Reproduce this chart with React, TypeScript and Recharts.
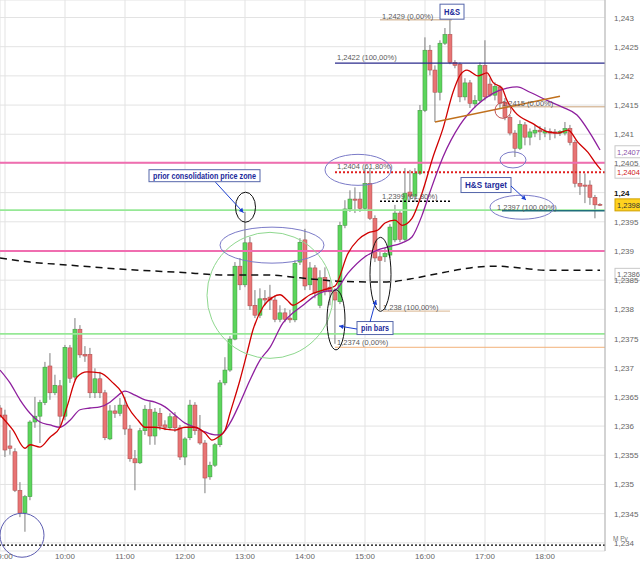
import React from 'react';
import {
  ComposedChart,
  Bar,
  Line,
  XAxis,
  YAxis,
  CartesianGrid,
  ReferenceLine,
  ReferenceDot
} from 'recharts';

// 5-minute EUR/USD bars, slot 0 = 9:00, first bar is 8:55
const firstSlot = -1;

const opens = [
  1.23631, 1.23619, 1.23566, 1.23556, 1.2349, 1.23451, 1.23479, 1.23607, 1.23617, 1.2364,
  1.23703, 1.23657, 1.23669, 1.23617, 1.23734, 1.23684, 1.23766, 1.23723, 1.23723, 1.23657,
  1.23681, 1.23657, 1.23578, 1.23626, 1.23622, 1.23636, 1.23595, 1.23544, 1.23537, 1.23592,
  1.23628, 1.23583, 1.23622, 1.23602, 1.23597, 1.23616, 1.23597, 1.23547, 1.2358, 1.23636,
  1.23593, 1.23571, 1.23513, 1.23533, 1.23568, 1.23674, 1.23696, 1.23749, 1.23874, 1.23842,
  1.23914, 1.23807, 1.2379, 1.23819, 1.23821, 1.23816, 1.23783, 1.23794, 1.23785, 1.23782,
  1.23881, 1.23919, 1.23842, 1.23871, 1.23807, 1.23855, 1.23838, 1.2383, 1.23813, 1.23944,
  1.23972, 1.23989, 1.23989, 1.23973, 1.24016, 1.23956, 1.2389, 1.2389, 1.23893, 1.23919,
  1.23965, 1.2392, 1.24001, 1.23994, 1.24033, 1.24141, 1.24244, 1.2421, 1.24172, 1.24256,
  1.24271, 1.24223, 1.2422, 1.24164, 1.24188, 1.24152, 1.24158, 1.24218, 1.24186, 1.24167,
  1.24181, 1.24155, 1.24129, 1.24102, 1.24076, 1.24116, 1.24095, 1.24102, 1.24107, 1.24102,
  1.24105, 1.24104, 1.24102, 1.24102, 1.2411, 1.24086, 1.24016, 1.24013, 1.24013, 1.23992,
  1.2398
];

const highs = [
  1.23636, 1.23628, 1.23593, 1.23562, 1.23504, 1.23482, 1.2361, 1.2365, 1.23645, 1.2371,
  1.23725, 1.23688, 1.23679, 1.23739, 1.23739, 1.23785, 1.23773, 1.23737, 1.23734, 1.23699,
  1.23693, 1.23662, 1.23636, 1.23636, 1.23648, 1.2365, 1.23602, 1.23559, 1.23597, 1.23636,
  1.23641, 1.23631, 1.23631, 1.2361, 1.23622, 1.23624, 1.23602, 1.23581, 1.23645, 1.23641,
  1.23619, 1.23576, 1.23539, 1.23571, 1.23679, 1.23718, 1.23754, 1.23881, 1.23888, 1.23967,
  1.23924, 1.23833, 1.23836, 1.23833, 1.23842, 1.23824, 1.23807, 1.23802, 1.23799, 1.23884,
  1.23922, 1.23938, 1.23881, 1.23876, 1.23867, 1.23872, 1.2385, 1.23836, 1.2395, 1.23987,
  1.24004, 1.24009, 1.24001, 1.24042, 1.24042, 1.23961, 1.23902, 1.23905, 1.23946, 1.23979,
  1.2397, 1.24042, 1.24039, 1.24042, 1.2415, 1.24266, 1.24253, 1.24218, 1.24261, 1.24282,
  1.24299, 1.24227, 1.24223, 1.24196, 1.24193, 1.24167, 1.24223, 1.24261, 1.24196, 1.24189,
  1.24184, 1.24162, 1.24133, 1.24107, 1.24124, 1.24121, 1.2411, 1.24116, 1.24114, 1.24112,
  1.2411, 1.24109, 1.24107, 1.24121, 1.24116, 1.2409, 1.24033, 1.24033, 1.24021, 1.23996,
  1.23982
];

const lows = [
  1.23614, 1.23547, 1.23551, 1.23487, 1.23444, 1.23419, 1.23473, 1.23597, 1.23571, 1.23636,
  1.23645, 1.23653, 1.23598, 1.2361, 1.23674, 1.23679, 1.23717, 1.2371, 1.23648, 1.23648,
  1.23648, 1.23576, 1.23576, 1.23614, 1.23617, 1.23585, 1.23539, 1.2349, 1.23535, 1.23585,
  1.23568, 1.23568, 1.23593, 1.23593, 1.23593, 1.2359, 1.23542, 1.23533, 1.23576, 1.23585,
  1.23568, 1.23485, 1.23508, 1.2353, 1.23564, 1.2367, 1.23693, 1.23747, 1.23833, 1.23838,
  1.23799, 1.23785, 1.23785, 1.23807, 1.23799, 1.23778, 1.23778, 1.23778, 1.23777, 1.23778,
  1.23876, 1.23833, 1.23833, 1.23819, 1.23802, 1.23824, 1.23807, 1.23741, 1.23809, 1.23939,
  1.23967, 1.23965, 1.23967, 1.2397, 1.23953, 1.23881, 1.23799, 1.23881, 1.23888, 1.23915,
  1.23915, 1.23917, 1.23987, 1.23984, 1.2403, 1.24138, 1.24201, 1.24121, 1.24158, 1.24253,
  1.2422, 1.24213, 1.24155, 1.24158, 1.24145, 1.24146, 1.24155, 1.24158, 1.24164, 1.24158,
  1.24145, 1.24124, 1.24098, 1.24061, 1.24073, 1.24081, 1.24081, 1.24095, 1.2409, 1.24095,
  1.2409, 1.24093, 1.24097, 1.24098, 1.24081, 1.24009, 1.23996, 1.23982, 1.23979, 1.23956,
  1.23977
];

const closes = [
  1.23617, 1.23559, 1.23562, 1.2349, 1.23451, 1.23479, 1.23607, 1.23617, 1.2364, 1.23701,
  1.23657, 1.2367, 1.23617, 1.23735, 1.23682, 1.23766, 1.23722, 1.2372, 1.23657, 1.23681,
  1.23657, 1.2358, 1.23626, 1.23622, 1.23636, 1.23595, 1.23544, 1.23537, 1.23592, 1.23629,
  1.23583, 1.23624, 1.236, 1.23598, 1.23616, 1.23597, 1.23547, 1.23578, 1.23636, 1.23592,
  1.23571, 1.23511, 1.23533, 1.23568, 1.23674, 1.23696, 1.23749, 1.23874, 1.23842, 1.23914,
  1.23806, 1.2379, 1.23818, 1.23816, 1.23816, 1.23783, 1.23794, 1.23783, 1.23782, 1.23879,
  1.23915, 1.2384, 1.23871, 1.23828, 1.23854, 1.2383, 1.2383, 1.23816, 1.23944, 1.23972,
  1.23989, 1.23987, 1.23973, 1.24016, 1.23956, 1.23888, 1.23884, 1.23896, 1.23941, 1.23965,
  1.2392, 1.23999, 1.23994, 1.24033, 1.24141, 1.24244, 1.2421, 1.24172, 1.24256, 1.24271,
  1.24223, 1.24218, 1.24164, 1.24188, 1.24153, 1.24158, 1.24218, 1.24164, 1.24167, 1.24182,
  1.24153, 1.24129, 1.24102, 1.24076, 1.24117, 1.24095, 1.24104, 1.24107, 1.24104, 1.24105,
  1.24102, 1.24102, 1.24105, 1.2411, 1.24086, 1.24016, 1.24011, 1.24011, 1.23992, 1.23979,
  1.23979
];

// moving averages: [slot, price]
const fastMa = [
  [-1, 1.23619], [1.6, 1.23593], [4, 1.23562], [5, 1.23568], [7, 1.23564], [9, 1.23581],
  [11, 1.23598], [12.4, 1.23633], [14.4, 1.23684], [16.4, 1.23693], [19, 1.23691],
  [21.6, 1.23674], [23.4, 1.23657], [24.6, 1.23633], [26.6, 1.2361], [28, 1.23598],
  [30, 1.23598], [32, 1.23595], [34, 1.23593], [36, 1.23598], [38, 1.23598], [40, 1.23588],
  [41.4, 1.23576], [42.6, 1.23581], [44, 1.23593], [45, 1.23622], [47, 1.23679],
  [48.4, 1.23725], [49.6, 1.23765], [51.6, 1.23804], [53.6, 1.23821], [55, 1.23825],
  [56.4, 1.23816], [57.6, 1.23807], [59, 1.23813], [61, 1.23825], [63.6, 1.23833],
  [66, 1.2384], [68.6, 1.23896], [70.6, 1.23919], [72.6, 1.23931], [74.6, 1.23936],
  [76, 1.23948], [78, 1.23953], [79.4, 1.23944], [81.4, 1.23956], [83.4, 1.23999],
  [85.6, 1.24061], [87.6, 1.2411], [89.6, 1.24172], [91, 1.24201], [92.4, 1.2421],
  [94.6, 1.242], [96.4, 1.24205], [97.6, 1.24189], [99.4, 1.24179], [100.4, 1.24158],
  [102, 1.24138], [105.4, 1.24119], [108.6, 1.24104], [110.6, 1.24102], [112.6, 1.24107],
  [114.6, 1.24086], [116.6, 1.24069], [118, 1.24052], [119.2, 1.24039]
];

const slowMa = [
  [-1, 1.23696], [1, 1.23674], [3, 1.23645], [5, 1.23622], [7, 1.23607], [9, 1.23602],
  [11, 1.23598], [13, 1.2361], [15, 1.23628], [17, 1.23631], [19, 1.23633], [21, 1.23641],
  [22, 1.23648], [24, 1.2366], [26, 1.23653], [28, 1.23645], [30, 1.23641], [32, 1.23633],
  [34, 1.23619], [36, 1.23605], [38, 1.23598], [40, 1.2359], [42, 1.23585], [43, 1.23585],
  [45, 1.23605], [47, 1.2364], [49, 1.23679], [51, 1.23713], [53, 1.23735], [55.6, 1.23777],
  [57.6, 1.23794], [59.6, 1.23807], [61.6, 1.23821], [63.6, 1.2383], [66, 1.23833],
  [68.6, 1.23862], [72, 1.2389], [74.6, 1.23902], [76.6, 1.23907], [79.4, 1.23914],
  [81.4, 1.23924], [83.4, 1.23961], [85, 1.24001], [87.6, 1.24061], [91, 1.24116],
  [94.4, 1.2415], [97.6, 1.2417], [100.4, 1.24179], [102.4, 1.24181], [105, 1.24172],
  [108.4, 1.24158], [111.6, 1.24146], [114.4, 1.24133], [117, 1.24102], [119, 1.24073]
];

const longMa = [
  [-1, 1.23888], [5, 1.23881], [12.4, 1.23876], [23, 1.23869], [37.6, 1.23862],
  [43, 1.23859], [52.4, 1.23859], [59, 1.23854], [67, 1.23848], [72.4, 1.23847],
  [76.4, 1.23847], [81, 1.23852], [87, 1.23862], [93, 1.23871], [98, 1.23874],
  [103, 1.23871], [108, 1.23867], [119, 1.23867]
];

const hourTicks = [0, 12, 24, 36, 48, 60, 72, 84, 96, 108];
const hourLabels = ['9:00', '10:00', '11:00', '12:00', '13:00', '14:00', '15:00', '16:00', '17:00', '18:00'];

const priceTicks = [
  1.234, 1.2345, 1.235, 1.2355, 1.236, 1.2365, 1.237, 1.2375, 1.238, 1.2385,
  1.239, 1.2395, 1.24, 1.2405, 1.241, 1.2415, 1.242, 1.2425, 1.243
];

const chartData = opens.map((o, k) => ({
  slot: firstSlot + k,
  open: o,
  high: highs[k],
  low: lows[k],
  close: closes[k],
  range: [lows[k], highs[k]]
}));

const toPoints = (rows: number[][]) => rows.map(([slot, v]) => ({ slot, v }));

const FONT = '"Liberation Sans", Arial, sans-serif';
const fmt = (v: number) => String(Number(v.toFixed(4))).replace('.', ',');

const Candle = (props: any) => {
  const { x, width, payload } = props;
  let { y, height } = props;
  if (height < 0) {
    y += height;
    height = -height;
  }
  const { open, close, high, low } = payload;
  const span = high - low;
  const px = (v: number) => (span > 0 ? y + ((high - v) / span) * height : y);
  const up = close > open;
  const top = px(Math.max(open, close));
  const bot = px(Math.min(open, close));
  const cx = x + width / 2;
  return (
    <g>
      <line x1={cx} x2={cx} y1={y} y2={y + height} stroke="#7d7d7d" strokeWidth={1} />
      <rect
        x={cx - 2}
        y={top}
        width={4}
        height={Math.max(bot - top, 1)}
        fill={up ? '#5cd65c' : '#e87474'}
        stroke={up ? '#3f8f3f' : '#a84848'}
        strokeWidth={0.5}
      />
    </g>
  );
};

const Arrow = ({ x1, y1, x2, y2 }: { x1: number; y1: number; x2: number; y2: number }) => {
  const a = Math.atan2(y2 - y1, x2 - x1);
  const s = 5;
  const p1 = `${x2 - s * Math.cos(a - 0.5)},${y2 - s * Math.sin(a - 0.5)}`;
  const p2 = `${x2 - s * Math.cos(a + 0.5)},${y2 - s * Math.sin(a + 0.5)}`;
  return (
    <g>
      <line x1={x1} y1={y1} x2={x2} y2={y2} stroke="#1b3fd0" strokeWidth={1} />
      <polygon points={`${x2},${y2} ${p1} ${p2}`} fill="#1b3fd0" />
    </g>
  );
};

const ellipse = (rx: number, ry: number, color: string) => (p: any) => (
  <ellipse cx={p.cx} cy={p.cy} rx={rx} ry={ry} fill="none" stroke={color} strokeWidth={1} />
);

const noteBox = (text: string, w: number, h: number, children?: (cx: number, cy: number) => React.ReactNode) => (p: any) => (
  <g>
    <rect x={p.cx - w / 2} y={p.cy - h / 2} width={w} height={h} fill="#fff" stroke="#5566aa" strokeWidth={1} />
    <text
      x={p.cx}
      y={p.cy + 3}
      textAnchor="middle"
      fontFamily={FONT}
      fontSize={8.5}
      fontWeight="bold"
      fill="#1c2a9a"
      textLength={w - 8}
      lengthAdjust="spacingAndGlyphs"
    >
      {text}
    </text>
    {children ? children(p.cx, p.cy) : null}
  </g>
);

const fibText = (text: string) => (p: any) => (
  <text x={p.cx} y={p.cy} fontFamily={FONT} fontSize={7.5} fill="#5a5a5a">
    {text}
  </text>
);

const priceTag = (text: string, color: string, fill: string, border: string) => (p: any) => {
  const vb = p.viewBox || {};
  const x = (vb.x || 0) + (vb.width || 0) + 10;
  const y = vb.y || 0;
  return (
    <g>
      <rect x={x} y={y - 6} width={30} height={12} fill={fill} stroke={border} strokeWidth={1} />
      <text x={x + 2} y={y + 3} fontFamily={FONT} fontSize={7.5} fill={color}>
        {text}
      </text>
    </g>
  );
};

const YTick = (p: any) => {
  const v = p.payload.value;
  const main = Math.abs(v - 1.24) < 1e-9;
  return (
    <text
      x={p.x + 1}
      y={p.y + 3}
      fontFamily={FONT}
      fontSize={8}
      fontWeight={main ? 'bold' : 'normal'}
      fill={main ? '#111' : '#666'}
    >
      {fmt(v)}
    </text>
  );
};

const XTick = (p: any) => {
  const k = hourTicks.indexOf(p.payload.value);
  return (
    <text x={p.x} y={559} textAnchor="middle" fontFamily={FONT} fontSize={8} fill="#666">
      {hourLabels[k]}
    </text>
  );
};

const lineProps = { type: 'monotone' as const, dot: false, activeDot: false, isAnimationActive: false };

export default function App() {
  return (
    <div style={{ position: 'absolute', left: 0, top: 0, width: 640, height: 562, background: '#fff', overflow: 'hidden' }}>
      <ComposedChart width={640} height={562} data={chartData} margin={{ top: 0, right: 0, bottom: 0, left: 0 }}>
        <CartesianGrid stroke="#e3e3e3" strokeWidth={1} />
        <XAxis
          dataKey="slot"
          type="number"
          domain={[-1, 120]}
          ticks={hourTicks}
          allowDataOverflow
          height={11}
          axisLine={false}
          tickLine={false}
          tick={XTick}
          interval={0}
        />
        <YAxis
          orientation="right"
          type="number"
          domain={[1.23386, 1.2433]}
          ticks={priceTicks}
          allowDataOverflow
          width={35}
          axisLine={{ stroke: '#b5b5b5' }}
          tickLine={false}
          tick={YTick}
          interval={0}
        />

        {/* support / resistance levels */}
        <ReferenceLine y={1.24051} stroke="#f06eb0" strokeWidth={2} />
        <ReferenceLine y={1.239} stroke="#f06eb0" strokeWidth={2} />
        <ReferenceLine y={1.2397} stroke="#96e896" strokeWidth={1.6} />
        <ReferenceLine y={1.23758} stroke="#96e896" strokeWidth={1.6} />
        <ReferenceLine
          y={1.23396}
          stroke="#000"
          strokeWidth={1.3}
          strokeDasharray="2 2"
          label={(p: any) => (
            <text x={p.viewBox.x + p.viewBox.width + 8} y={p.viewBox.y - 4} fontFamily={FONT} fontSize={6.5} fill="#777">
              M Pv
            </text>
          )}
        />

        {/* fibonacci levels */}
        <ReferenceLine segment={[{ x: 75, y: 1.24296 }, { x: 89.4, y: 1.24296 }]} stroke="#c9a27a" />
        <ReferenceLine segment={[{ x: 66, y: 1.24222 }, { x: 120, y: 1.24222 }]} stroke="#2b2b8c" strokeWidth={1.2} />
        <ReferenceLine segment={[{ x: 99.4, y: 1.24147 }, { x: 120, y: 1.24147 }]} stroke="#c9a27a" />
        <ReferenceLine segment={[{ x: 66, y: 1.24035 }, { x: 120, y: 1.24035 }]} stroke="#e02020" strokeWidth={2} strokeDasharray="2 2" />
        <ReferenceLine segment={[{ x: 75, y: 1.23985 }, { x: 89, y: 1.23985 }]} stroke="#000" strokeWidth={1.5} strokeDasharray="2 2" />
        <ReferenceLine segment={[{ x: 99.4, y: 1.23969 }, { x: 120, y: 1.23969 }]} stroke="#1f6f7a" strokeWidth={1.5} />
        <ReferenceLine segment={[{ x: 75.6, y: 1.23797 }, { x: 89, y: 1.23797 }]} stroke="#d9b48e" />
        <ReferenceLine segment={[{ x: 66, y: 1.23735 }, { x: 120, y: 1.23735 }]} stroke="#f2b27a" />

        <Bar dataKey="range" barSize={4} shape={Candle} activeBar={false} isAnimationActive={false} />

        <Line data={toPoints(longMa)} dataKey="v" stroke="#111" strokeWidth={1.5} strokeDasharray="7 5" {...lineProps} />
        <Line data={toPoints(slowMa)} dataKey="v" stroke="#8e1f9e" strokeWidth={1.3} {...lineProps} />
        <Line data={toPoints(fastMa)} dataKey="v" stroke="#d00000" strokeWidth={1.3} {...lineProps} />

        {/* head & shoulders neckline */}
        <ReferenceLine segment={[{ x: 86, y: 1.24121 }, { x: 111, y: 1.24165 }]} stroke="#c0701c" strokeWidth={1.5} />

        {/* fib labels */}
        <ReferenceDot x={75.4} y={1.24298} r={0} shape={fibText('1,2429 (0,00%)')} />
        <ReferenceDot x={66.4} y={1.24227} r={0} shape={fibText('1,2422 (100,00%)')} />
        <ReferenceDot x={99.4} y={1.24149} r={0} shape={fibText('1,2415 (0,00%)')} />
        <ReferenceDot x={66.4} y={1.2404} r={0} shape={fibText('1,2404 (61,80%)')} />
        <ReferenceDot x={75.4} y={1.23989} r={0} shape={fibText('1,2399 (61,80%)')} />
        <ReferenceDot x={98.4} y={1.23971} r={0} shape={fibText('1,2397 (100,00%)')} />
        <ReferenceDot x={75.6} y={1.23799} r={0} shape={fibText('1,238 (100,00%)')} />
        <ReferenceDot x={66.4} y={1.23739} r={0} shape={fibText('1,2374 (0,00%)')} />

        {/* circles and ellipses */}
        <ReferenceDot x={3.4} y={1.23413} r={0} ifOverflow="visible" shape={ellipse(22, 22, '#5b5bb0')} />
        <ReferenceDot x={53} y={1.23824} r={0} shape={ellipse(63, 63, '#8fd88f')} />
        <ReferenceDot x={53.4} y={1.2391} r={0} shape={ellipse(52, 18, '#7b7bc8')} />
        <ReferenceDot x={48.1} y={1.23975} r={0} shape={ellipse(10, 15, '#111')} />
        <ReferenceDot x={66.2} y={1.23782} r={0} shape={ellipse(9, 30, '#111')} />
        <ReferenceDot x={75.1} y={1.2386} r={0} shape={ellipse(10.5, 37, '#111')} />
        <ReferenceDot x={70.6} y={1.24039} r={0} shape={ellipse(33, 15.5, '#7b7bc8')} />
        <ReferenceDot x={103.4} y={1.23975} r={0} shape={ellipse(32, 12, '#7b7bc8')} />
        <ReferenceDot x={101.6} y={1.24056} r={0} shape={ellipse(13, 8, '#7b7bc8')} />
        <ReferenceDot x={99.6} y={1.24141} r={0} shape={ellipse(8, 8, '#c05050')} />

        {/* text notes */}
        <ReferenceDot
          x={39.9}
          y={1.24029}
          r={0}
          shape={noteBox('prior consolidation price zone', 111, 12, (cx, cy) => (
            <Arrow x1={cx + 11} y1={cy + 6.5} x2={cx + 39} y2={cy + 37} />
          ))}
        />
        <ReferenceDot x={89.4} y={1.2431} r={0} shape={noteBox('H&S', 24, 15)} />
        <ReferenceDot
          x={96.2}
          y={1.24013}
          r={0}
          shape={noteBox('H&S  target', 50, 15, (cx, cy) => (
            <Arrow x1={cx + 25} y1={cy + 1} x2={cx + 40} y2={cy + 15} />
          ))}
        />
        <ReferenceDot
          x={74}
          y={1.23768}
          r={0}
          shape={noteBox('pin bars', 36, 13, (cx, cy) => (
            <g>
              <Arrow x1={cx - 18} y1={cy + 1} x2={cx - 36} y2={cy - 2} />
              <Arrow x1={cx - 5} y1={cy - 6} x2={cx + 1} y2={cy - 28} />
            </g>
          ))}
        />

        {/* price tags on the right scale */}
        <ReferenceLine y={1.2407} stroke="none" label={priceTag('1,2407', '#8a4fa8', '#fff', '#c8c8c8')} />
        <ReferenceLine y={1.24035} stroke="none" label={priceTag('1,2404', '#d02020', '#fff', '#c8c8c8')} />
        <ReferenceLine y={1.23979} stroke="none" label={priceTag('1,2398', '#333', '#ffd21f', '#d0a000')} />
        <ReferenceLine y={1.2386} stroke="none" label={priceTag('1,2386', '#666', '#fff', '#c8c8c8')} />
      </ComposedChart>
    </div>
  );
}
